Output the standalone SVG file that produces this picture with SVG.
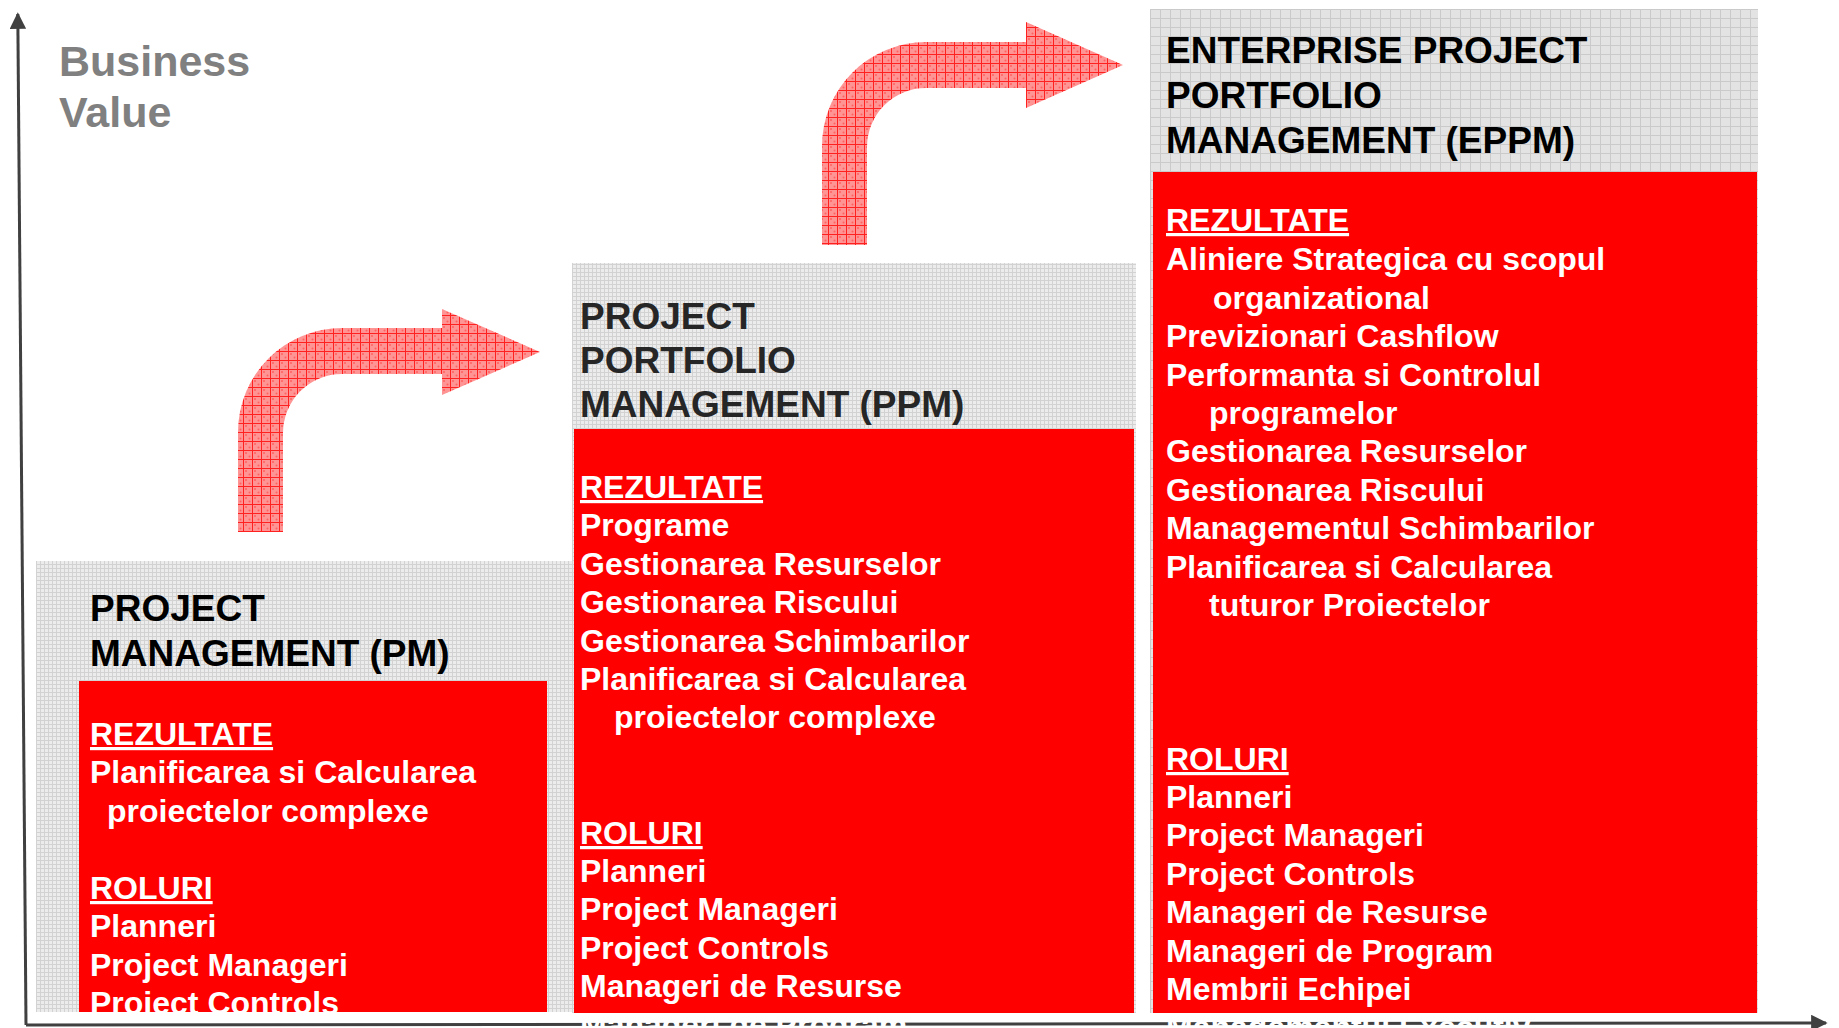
<svg xmlns="http://www.w3.org/2000/svg" width="1839" height="1028" viewBox="0 0 1839 1028">
<defs>
  <pattern id="fineGray" width="4" height="4" patternUnits="userSpaceOnUse">
    <rect width="4" height="4" fill="#ececec"/>
    <path d="M0,0.5 H4 M0.5,0 V4" stroke="#d2d2d2" stroke-width="1"/>
  </pattern>
  <pattern id="gridGray" width="10" height="9" patternUnits="userSpaceOnUse">
    <rect width="10" height="9" fill="#e3e3e3"/>
    <path d="M0,0.5 H10 M0.5,0 V9" stroke="#cacaca" stroke-width="1"/>
  </pattern>
  <pattern id="redGrid" width="9" height="9" patternUnits="userSpaceOnUse">
    <rect width="9" height="9" fill="#ff9494"/>
    <circle cx="3" cy="3" r="1" fill="#ff6060"/>
    <circle cx="6.5" cy="6.5" r="1" fill="#ff6060"/>
    <path d="M0,0.5 H9 M0.5,0 V9" stroke="#ff2020" stroke-width="1"/>
  </pattern>
  <marker id="axisHead" viewBox="0 0 10 10" refX="9" refY="5" markerWidth="5.5" markerHeight="5.5" orient="auto" markerUnits="strokeWidth">
    <path d="M0,0 L10,5 L0,10 Z" fill="#404040"/>
  </marker>
  <clipPath id="pmClip"><rect x="79" y="681" width="468" height="331"/></clipPath>
</defs>
<style>
  .title { font-family: "Liberation Sans", Arial, sans-serif; font-weight: bold; font-size: 37px; fill: #000; }
  .body { font-family: "Liberation Sans", Arial, sans-serif; font-weight: bold; font-size: 32px; fill: #fff; }
  .head { text-decoration: underline; }
  .red { fill: #ff0000; }
  .axis { stroke: #404040; stroke-width: 3; fill: none; }
  .bigArrow { fill: url(#redGrid); }
</style>
<rect width="1839" height="1028" fill="#fff"/>

<g id="connectors">
  <line class="axis" x1="26" y1="1025" x2="17.8" y2="14" marker-end="url(#axisHead)"/>
  <line class="axis" x1="26" y1="1025" x2="1826" y2="1023" marker-end="url(#axisHead)"/>
</g>

<g id="business-value">
  <text class="title" x="59" y="76" style="font-size:43px;fill:#808080">Business</text>
  <text class="title" x="59" y="127" style="font-size:43px;fill:#808080">Value</text>
</g>

<g id="pm">
  <rect x="36" y="561" width="536" height="451" fill="url(#fineGray)"/>
  <rect class="red" x="79" y="681" width="468" height="331"/>
  <text class="title" x="90" y="621">PROJECT</text>
  <text class="title" x="90" y="666">MANAGEMENT (PM)</text>
  <g clip-path="url(#pmClip)">
    <text class="body head" x="90" y="745">REZULTATE</text>
    <text class="body" x="90" y="783">Planificarea si Calcularea</text>
    <text class="body" x="107" y="822">proiectelor complexe</text>
    <text class="body head" x="90" y="899">ROLURI</text>
    <text class="body" x="90" y="937">Planneri</text>
    <text class="body" x="90" y="976">Project Manageri</text>
    <text class="body" x="90" y="1014">Project Controls</text>
  </g>
</g>

<g id="ppm">
  <rect x="572" y="263" width="564" height="750" fill="url(#fineGray)"/>
  <rect class="red" x="574" y="429" width="560" height="584"/>
  <text class="title" x="580" y="329" style="fill:#262626">PROJECT</text>
  <text class="title" x="580" y="373" style="fill:#262626">PORTFOLIO</text>
  <text class="title" x="580" y="417" style="fill:#262626">MANAGEMENT (PPM)</text>
  <text class="body head" x="580" y="498">REZULTATE</text>
  <text class="body" x="580" y="536">Programe</text>
  <text class="body" x="580" y="575">Gestionarea Resurselor</text>
  <text class="body" x="580" y="613">Gestionarea Riscului</text>
  <text class="body" x="580" y="652">Gestionarea Schimbarilor</text>
  <text class="body" x="580" y="690">Planificarea si Calcularea</text>
  <text class="body" x="614" y="728">proiectelor complexe</text>
  <text class="body head" x="580" y="844">ROLURI</text>
  <text class="body" x="580" y="882">Planneri</text>
  <text class="body" x="580" y="920">Project Manageri</text>
  <text class="body" x="580" y="959">Project Controls</text>
  <text class="body" x="580" y="997">Manageri de Resurse</text>
  <text class="body" x="580" y="1036">Manageri de Program</text>
</g>

<g id="eppm">
  <rect x="1150" y="9" width="608" height="1004" fill="url(#gridGray)"/>
  <rect class="red" x="1153" y="172" width="604" height="841"/>
  <text class="title" x="1166" y="63">ENTERPRISE PROJECT</text>
  <text class="title" x="1166" y="108">PORTFOLIO</text>
  <text class="title" x="1166" y="153">MANAGEMENT (EPPM)</text>
  <text class="body head" x="1166" y="231">REZULTATE</text>
  <text class="body" x="1166" y="270">Aliniere Strategica cu scopul</text>
  <text class="body" x="1213" y="309">organizational</text>
  <text class="body" x="1166" y="347">Previzionari Cashflow</text>
  <text class="body" x="1166" y="386">Performanta  si Controlul</text>
  <text class="body" x="1209" y="424">programelor</text>
  <text class="body" x="1166" y="462">Gestionarea Resurselor</text>
  <text class="body" x="1166" y="501">Gestionarea Riscului</text>
  <text class="body" x="1166" y="539">Managementul Schimbarilor</text>
  <text class="body" x="1166" y="578">Planificarea si Calcularea</text>
  <text class="body" x="1209" y="616">tuturor Proiectelor</text>
  <text class="body head" x="1166" y="770">ROLURI</text>
  <text class="body" x="1166" y="808">Planneri</text>
  <text class="body" x="1166" y="846">Project Manageri</text>
  <text class="body" x="1166" y="885">Project Controls</text>
  <text class="body" x="1166" y="923">Manageri de Resurse</text>
  <text class="body" x="1166" y="962">Manageri de Program</text>
  <text class="body" x="1166" y="1000">Membrii Echipei</text>
  <text class="body" x="1166" y="1038">Managementul Executiv</text>
</g>

<g id="step-arrow-1">
  <path class="bigArrow" d="M238,532 L238,432 A104,104 0 0 1 342,328 L442,328 L442,309 L540,352 L442,395 L442,374 L342,374 A59,59 0 0 0 283,433 L283,532 Z"/>
</g>
<g id="step-arrow-2">
  <path class="bigArrow" d="M822,245 L822,146 A104,104 0 0 1 926,42 L1026,42 L1026,22 L1123,65 L1026,108 L1026,88 L926,88 A59,59 0 0 0 867,147 L867,245 Z"/>
</g>
</svg>
